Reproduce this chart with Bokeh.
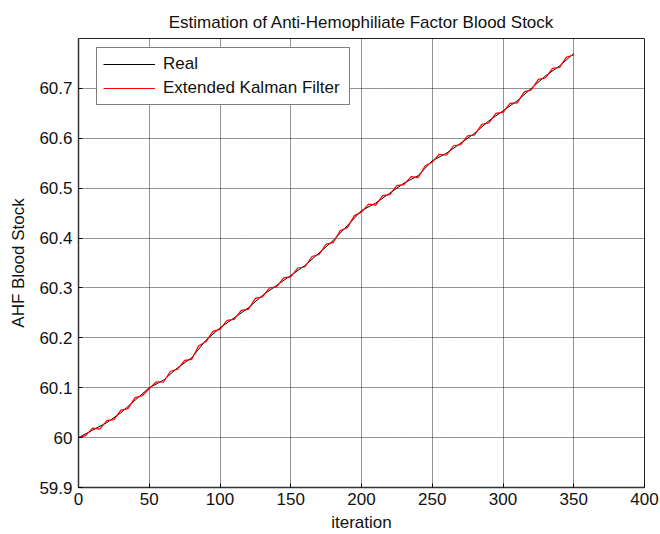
from bokeh.plotting import figure
from bokeh.models import Range1d, Legend, LegendItem, SingleIntervalTicker, Title
from bokeh.embed import file_html
from bokeh.resources import INLINE

# ---- data ----
real_iter = [0, 10, 20, 30, 40, 50, 60, 70, 80, 90, 100, 110, 120, 130, 140, 150, 160, 170,
             180, 190, 200, 210, 220, 230, 240, 250, 260, 270, 280, 290, 300, 310, 320, 330, 340, 350]
real_val = [60.000, 60.015, 60.030, 60.050, 60.075, 60.100, 60.115, 60.140, 60.160, 60.195,
            60.220, 60.240, 60.260, 60.285, 60.305, 60.325, 60.345, 60.370, 60.395, 60.425,
            60.455, 60.470, 60.490, 60.510, 60.525, 60.555, 60.570, 60.590, 60.610, 60.635,
            60.655, 60.675, 60.700, 60.725, 60.745, 60.770]

ekf_iter = [0, 5, 10, 15, 20, 25, 30, 35, 40, 45, 50, 55, 60, 65, 70, 75, 80, 85, 90, 95,
            100, 105, 110, 115, 120, 125, 130, 135, 140, 145, 150, 155, 160, 165, 170, 175,
            180, 185, 190, 195, 200, 205, 210, 215, 220, 225, 230, 235, 240, 245, 250, 255,
            260, 265, 270, 275, 280, 285, 290, 295, 300, 305, 310, 315, 320, 325, 330, 335,
            340, 345, 350]
ekf_val = [60.000, 60.004, 60.019, 60.017, 60.034, 60.036, 60.055, 60.058, 60.080, 60.084,
           60.098, 60.112, 60.111, 60.133, 60.137, 60.155, 60.157, 60.184, 60.192, 60.213,
           60.217, 60.235, 60.237, 60.255, 60.257, 60.279, 60.282, 60.300, 60.302, 60.320,
           60.322, 60.340, 60.342, 60.363, 60.367, 60.388, 60.391, 60.415, 60.421, 60.445,
           60.452, 60.468, 60.466, 60.485, 60.487, 60.505, 60.507, 60.523, 60.521, 60.545,
           60.552, 60.568, 60.566, 60.585, 60.587, 60.605, 60.607, 60.628, 60.631, 60.650,
           60.652, 60.670, 60.671, 60.693, 60.697, 60.718, 60.721, 60.740, 60.742, 60.763,
           60.767]

title_text = "Estimation of Anti-Hemophiliate Factor Blood Stock"
x_label = "iteration"
y_label = "AHF Blood Stock"
legend_labels = ["Real", "Extended Kalman Filter"]

FONT = "Liberation Sans"
FS = "17px"

p = figure(width=660, height=534, output_backend="svg", toolbar_location=None,
           x_range=Range1d(0, 400), y_range=Range1d(59.9, 60.8),
           min_border_left=78, min_border_right=16, min_border_top=38, min_border_bottom=47)
p.background_fill_color = "white"
p.border_fill_color = "white"
p.outline_line_color = "#222222"
p.outline_line_width = 1

xt = SingleIntervalTicker(interval=50, num_minor_ticks=0)
yt = SingleIntervalTicker(interval=0.1, num_minor_ticks=0)

def style_axis(ax):
    ax.major_tick_in = 4
    ax.major_tick_out = 0
    ax.minor_tick_in = 0
    ax.minor_tick_out = 0
    ax.axis_line_color = "#333333"
    ax.axis_line_width = 1.5
    ax.major_tick_line_color = "black"
    ax.major_label_text_font = FONT
    ax.major_label_text_font_size = FS
    ax.major_label_text_color = "#111111"
    ax.axis_label_text_font = FONT
    ax.axis_label_text_font_size = FS
    ax.axis_label_text_font_style = "normal"
    ax.axis_label_text_color = "#111111"

p.xaxis.ticker = xt
p.yaxis.ticker = yt
style_axis(p.xaxis[0])
style_axis(p.yaxis[0])
p.xaxis.axis_label = x_label
p.yaxis.axis_label = y_label
p.xaxis.major_label_standoff = 5
p.yaxis.major_label_standoff = 6
p.xaxis.axis_label_standoff = 5
p.yaxis.axis_label_standoff = 8

p.title = Title(text=title_text, align="center", text_font=FONT, text_font_size=FS,
                text_font_style="normal", text_color="#111111", standoff=14)

for g in (p.xgrid[0], p.ygrid[0]):
    g.grid_line_color = "black"
    g.grid_line_alpha = 0.85
    g.grid_line_dash = "1 1"
    g.grid_line_width = 1
p.xgrid.ticker = xt
p.ygrid.ticker = yt

r_real = p.line(real_iter, real_val, line_color="black", line_width=1)
r_ekf = p.line(ekf_iter, ekf_val, line_color="#ff0000", line_width=1.2)

legend = Legend(items=[LegendItem(label=legend_labels[0], renderers=[r_real]),
                       LegendItem(label=legend_labels[1], renderers=[r_ekf])],
                location=(18, 382))
legend.label_text_font = FONT
legend.label_text_font_size = FS
legend.label_text_color = "#111111"
legend.border_line_color = "black"
legend.border_line_width = 1
legend.background_fill_alpha = 1
legend.padding = 6
legend.spacing = 4
legend.glyph_width = 52
legend.glyph_height = 20
legend.label_height = 20
legend.label_width = 180
legend.label_standoff = 8
legend.margin = 0
p.add_layout(legend, "center")

open("out.html", "w").write(file_html(p, INLINE))
